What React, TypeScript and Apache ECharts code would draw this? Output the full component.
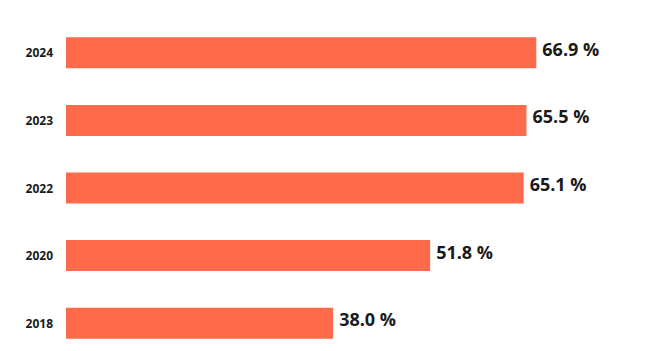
import React, { useEffect, useRef } from "react";
import * as echarts from "echarts";

const categories = ["2018", "2020", "2022", "2023", "2024"];
const values = [38.0, 51.8, 65.1, 65.5, 66.9];
const axisMax = 83.5;

export default function App() {
  const ref = useRef<HTMLDivElement>(null);
  useEffect(() => {
    if (!ref.current) return;
    const chart = echarts.init(ref.current, null, { renderer: "svg" });
    chart.setOption({
      animation: false,
      grid: { left: 66, top: 19, right: 0, bottom: 0, containLabel: false },
      xAxis: {
        type: "value",
        min: 0,
        max: axisMax,
        show: false,
      },
      yAxis: {
        type: "category",
        data: categories,
        axisLine: { show: false },
        axisTick: { show: false },
        splitLine: { show: false },
        axisLabel: {
          margin: 13,
          color: "#1a1a1a",
          fontFamily: "Open Sans",
          fontWeight: "bold",
          fontSize: 12,
        },
      },
      series: [
        {
          type: "bar",
          data: values,
          barWidth: 31,
          itemStyle: { color: "#ff6b4a" },
          label: {
            show: true,
            position: "right",
            distance: 6,
            offset: [0, -4],
            formatter: (p: any) => p.value.toFixed(1) + " %",
            color: "#1a1a1a",
            fontFamily: "Open Sans",
            fontWeight: "bold",
            fontSize: 18,
          },
        },
      ],
    });
    return () => chart.dispose();
  }, []);
  return (
    <div
      style={{ position: "absolute", left: 0, top: 0, width: 653, height: 351, overflow: "hidden" }}
    >
      <div ref={ref} style={{ width: 653, height: 357 }} />
    </div>
  );
}
